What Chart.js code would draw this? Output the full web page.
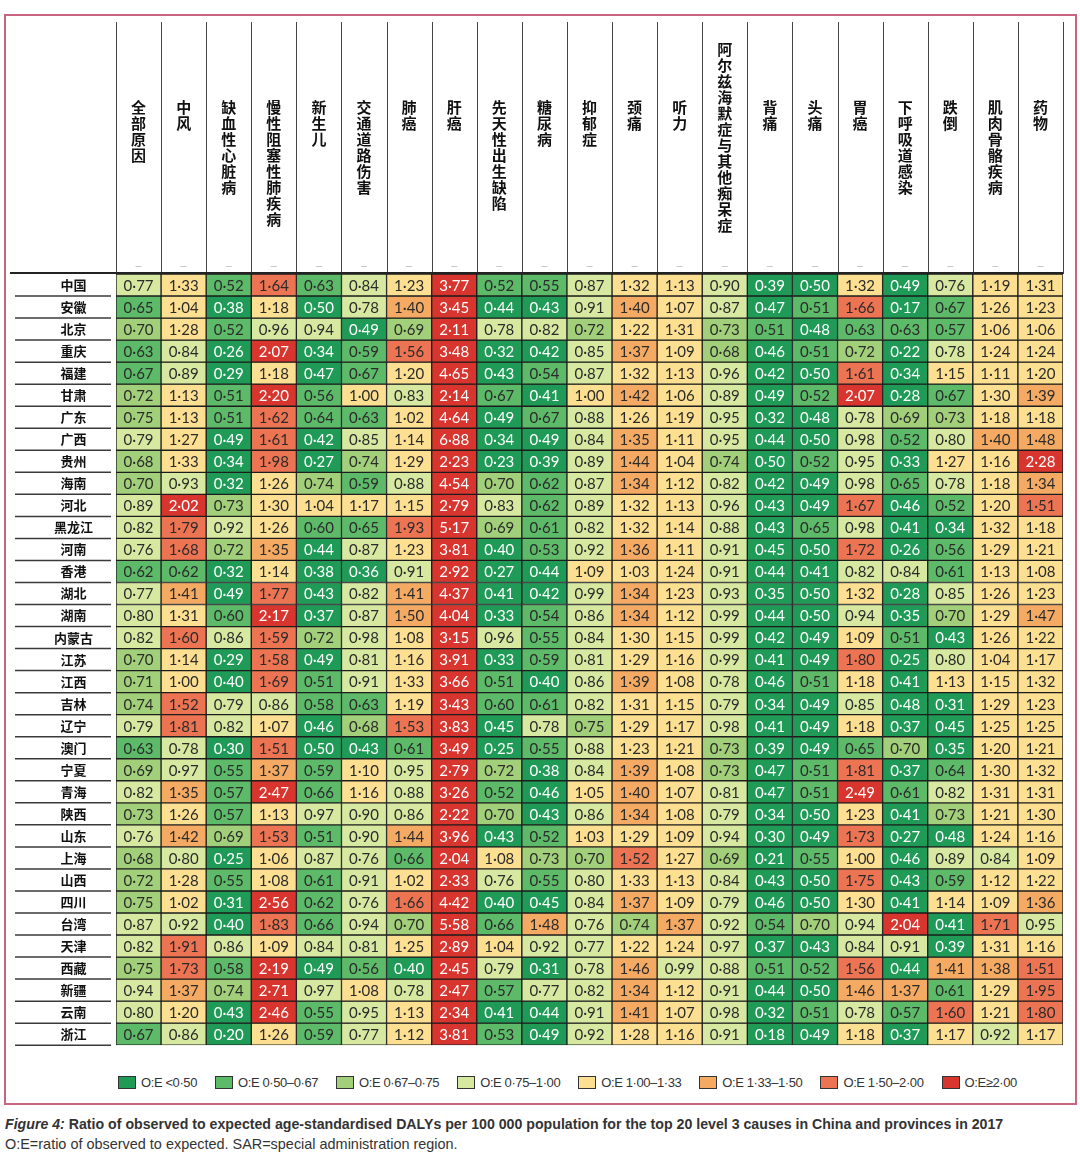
<!DOCTYPE html>
<html>
<head>
<meta charset="utf-8">
<script src="https://cdn.jsdelivr.net/npm/chart.js@4.4.0/dist/chart.umd.min.js"></script>
<style>
  body { margin: 0; background: #fff; }
  #page { position: relative; width: 1080px; height: 1157px; overflow: hidden; }
  #frame { position: absolute; left: 4px; top: 14px; width: 1069px; height: 1087px; border: 2px solid #c9667f; }
  #wrap { position: absolute; left: 0; top: 0; width: 1080px; height: 1068px; }
  #legend { position: absolute; left: 118px; top: 1075px; display: flex; align-items: center; white-space: nowrap;
    font: 13px 'Liberation Sans', sans-serif; letter-spacing: -0.4px; color: #333; }
  #legend .item { display: flex; align-items: center; margin-right: 18px; }
  #legend .box { width: 16px; height: 11px; border: 1px solid #333; margin-right: 5px; }
  #caption { position: absolute; left: 5px; top: 1115px; font-family: 'Liberation Sans', sans-serif; color: #333; }
  #caption div { white-space: nowrap; transform-origin: left top; display: inline-block; }
  #caption .l1 { font-size: 15px; font-weight: bold; }
  #caption .l2 { font-size: 14.5px; margin-top: 3px; }
</style>
</head>
<body>
<div id="page">
  <div id="frame"></div>
  <div id="wrap"><canvas id="heat"></canvas></div>
  <div id="legend"></div>
  <div id="caption">
    <div class="l1" data-w="998"><i>Figure 4:</i> Ratio of observed to expected age-standardised DALYs per 100 000 population for the top 20 level 3 causes in China and provinces in 2017</div><br>
    <div class="l2" data-w="453">O:E=ratio of observed to expected. SAR=special administration region.</div>
  </div>
</div>
<script>
// columns and rows
var causes = ['全部原因', '中风', '缺血性心脏病', '慢性阻塞性肺疾病', '新生儿', '交通道路伤害', '肺癌', '肝癌',
  '先天性出生缺陷', '糖尿病', '抑郁症', '颈痛', '听力', '阿尔兹海默症与其他痴呆症', '背痛', '头痛', '胃癌',
  '下呼吸道感染', '跌倒', '肌肉骨骼疾病', '药物'];

var provinces = ['中国', '安徽', '北京', '重庆', '福建', '甘肃', '广东', '广西', '贵州', '海南', '河北', '黑龙江',
  '河南', '香港', '湖北', '湖南', '内蒙古', '江苏', '江西', '吉林', '辽宁', '澳门', '宁夏', '青海', '陕西', '山东',
  '上海', '山西', '四川', '台湾', '天津', '西藏', '新疆', '云南', '浙江'];

// O:E ratios, one array per row
var zhongguo  = [0.77, 1.33, 0.52, 1.64, 0.63, 0.84, 1.23, 3.77, 0.52, 0.55, 0.87, 1.32, 1.13, 0.90, 0.39, 0.50, 1.32, 0.49, 0.76, 1.19, 1.31];
var anhui     = [0.65, 1.04, 0.38, 1.18, 0.50, 0.78, 1.40, 3.45, 0.44, 0.43, 0.91, 1.40, 1.07, 0.87, 0.47, 0.51, 1.66, 0.17, 0.67, 1.26, 1.23];
var beijing   = [0.70, 1.28, 0.52, 0.96, 0.94, 0.49, 0.69, 2.11, 0.78, 0.82, 0.72, 1.22, 1.31, 0.73, 0.51, 0.48, 0.63, 0.63, 0.57, 1.06, 1.06];
var chongqing = [0.63, 0.84, 0.26, 2.07, 0.34, 0.59, 1.56, 3.48, 0.32, 0.42, 0.85, 1.37, 1.09, 0.68, 0.46, 0.51, 0.72, 0.22, 0.78, 1.24, 1.24];
var fujian    = [0.67, 0.89, 0.29, 1.18, 0.47, 0.67, 1.20, 4.65, 0.43, 0.54, 0.87, 1.32, 1.13, 0.96, 0.42, 0.50, 1.61, 0.34, 1.15, 1.11, 1.20];
var gansu     = [0.72, 1.13, 0.51, 2.20, 0.56, 1.00, 0.83, 2.14, 0.67, 0.41, 1.00, 1.42, 1.06, 0.89, 0.49, 0.52, 2.07, 0.28, 0.67, 1.30, 1.39];
var guangdong = [0.75, 1.13, 0.51, 1.62, 0.64, 0.63, 1.02, 4.64, 0.49, 0.67, 0.88, 1.26, 1.19, 0.95, 0.32, 0.48, 0.78, 0.69, 0.73, 1.18, 1.18];
var guangxi   = [0.79, 1.27, 0.49, 1.61, 0.42, 0.85, 1.14, 6.88, 0.34, 0.49, 0.84, 1.35, 1.11, 0.95, 0.44, 0.50, 0.98, 0.52, 0.80, 1.40, 1.48];
var guizhou   = [0.68, 1.33, 0.34, 1.98, 0.27, 0.74, 1.29, 2.23, 0.23, 0.39, 0.89, 1.44, 1.04, 0.74, 0.50, 0.52, 0.95, 0.33, 1.27, 1.16, 2.28];
var hainan    = [0.70, 0.93, 0.32, 1.26, 0.74, 0.59, 0.88, 4.54, 0.70, 0.62, 0.87, 1.34, 1.12, 0.82, 0.42, 0.49, 0.98, 0.65, 0.78, 1.18, 1.34];
var hebei     = [0.89, 2.02, 0.73, 1.30, 1.04, 1.17, 1.15, 2.79, 0.83, 0.62, 0.89, 1.32, 1.13, 0.96, 0.43, 0.49, 1.67, 0.46, 0.52, 1.20, 1.51];
var heilongjiang = [0.82, 1.79, 0.92, 1.26, 0.60, 0.65, 1.93, 5.17, 0.69, 0.61, 0.82, 1.32, 1.14, 0.88, 0.43, 0.65, 0.98, 0.41, 0.34, 1.32, 1.18];
var henan     = [0.76, 1.68, 0.72, 1.35, 0.44, 0.87, 1.23, 3.81, 0.40, 0.53, 0.92, 1.36, 1.11, 0.91, 0.45, 0.50, 1.72, 0.26, 0.56, 1.29, 1.21];
var xianggang = [0.62, 0.62, 0.32, 1.14, 0.38, 0.36, 0.91, 2.92, 0.27, 0.44, 1.09, 1.03, 1.24, 0.91, 0.44, 0.41, 0.82, 0.84, 0.61, 1.13, 1.08];
var hubei     = [0.77, 1.41, 0.49, 1.77, 0.43, 0.82, 1.41, 4.37, 0.41, 0.42, 0.99, 1.34, 1.23, 0.93, 0.35, 0.50, 1.32, 0.28, 0.85, 1.26, 1.23];
var hunan     = [0.80, 1.31, 0.60, 2.17, 0.37, 0.87, 1.50, 4.04, 0.33, 0.54, 0.86, 1.34, 1.12, 0.99, 0.44, 0.50, 0.94, 0.35, 0.70, 1.29, 1.47];
var neimenggu = [0.82, 1.60, 0.86, 1.59, 0.72, 0.98, 1.08, 3.15, 0.96, 0.55, 0.84, 1.30, 1.15, 0.99, 0.42, 0.49, 1.09, 0.51, 0.43, 1.26, 1.22];
var jiangsu   = [0.70, 1.14, 0.29, 1.58, 0.49, 0.81, 1.16, 3.91, 0.33, 0.59, 0.81, 1.29, 1.16, 0.99, 0.41, 0.49, 1.80, 0.25, 0.80, 1.04, 1.17];
var jiangxi   = [0.71, 1.00, 0.40, 1.69, 0.51, 0.91, 1.33, 3.66, 0.51, 0.40, 0.86, 1.39, 1.08, 0.78, 0.46, 0.51, 1.18, 0.41, 1.13, 1.15, 1.32];
var jilin     = [0.74, 1.52, 0.79, 0.86, 0.58, 0.63, 1.19, 3.43, 0.60, 0.61, 0.82, 1.31, 1.15, 0.79, 0.34, 0.49, 0.85, 0.48, 0.31, 1.29, 1.23];
var liaoning  = [0.79, 1.81, 0.82, 1.07, 0.46, 0.68, 1.53, 3.83, 0.45, 0.78, 0.75, 1.29, 1.17, 0.98, 0.41, 0.49, 1.18, 0.37, 0.45, 1.25, 1.25];
var aomen     = [0.63, 0.78, 0.30, 1.51, 0.50, 0.43, 0.61, 3.49, 0.25, 0.55, 0.88, 1.23, 1.21, 0.73, 0.39, 0.49, 0.65, 0.70, 0.35, 1.20, 1.21];
var ningxia   = [0.69, 0.97, 0.55, 1.37, 0.59, 1.10, 0.95, 2.79, 0.72, 0.38, 0.84, 1.39, 1.08, 0.73, 0.47, 0.51, 1.81, 0.37, 0.64, 1.30, 1.32];
var qinghai   = [0.82, 1.35, 0.57, 2.47, 0.66, 1.16, 0.88, 3.26, 0.52, 0.46, 1.05, 1.40, 1.07, 0.81, 0.47, 0.51, 2.49, 0.61, 0.82, 1.31, 1.31];
var shaanxi   = [0.73, 1.26, 0.57, 1.13, 0.97, 0.90, 0.86, 2.22, 0.70, 0.43, 0.86, 1.34, 1.08, 0.79, 0.34, 0.50, 1.23, 0.41, 0.73, 1.21, 1.30];
var shandong  = [0.76, 1.42, 0.69, 1.53, 0.51, 0.90, 1.44, 3.96, 0.43, 0.52, 1.03, 1.29, 1.09, 0.94, 0.30, 0.49, 1.73, 0.27, 0.48, 1.24, 1.16];
var shanghai  = [0.68, 0.80, 0.25, 1.06, 0.87, 0.76, 0.66, 2.04, 1.08, 0.73, 0.70, 1.52, 1.27, 0.69, 0.21, 0.55, 1.00, 0.46, 0.89, 0.84, 1.09];
var shanxi    = [0.72, 1.28, 0.55, 1.08, 0.61, 0.91, 1.02, 2.33, 0.76, 0.55, 0.80, 1.33, 1.13, 0.84, 0.43, 0.50, 1.75, 0.43, 0.59, 1.12, 1.22];
var sichuan   = [0.75, 1.02, 0.31, 2.56, 0.62, 0.76, 1.66, 4.42, 0.40, 0.45, 0.84, 1.37, 1.09, 0.79, 0.46, 0.50, 1.30, 0.41, 1.14, 1.09, 1.36];
var taiwan    = [0.87, 0.92, 0.40, 1.83, 0.66, 0.94, 0.70, 5.58, 0.66, 1.48, 0.76, 0.74, 1.37, 0.92, 0.54, 0.70, 0.94, 2.04, 0.41, 1.71, 0.95];
var tianjin   = [0.82, 1.91, 0.86, 1.09, 0.84, 0.81, 1.25, 2.89, 1.04, 0.92, 0.77, 1.22, 1.24, 0.97, 0.37, 0.43, 0.84, 0.91, 0.39, 1.31, 1.16];
var xizang    = [0.75, 1.73, 0.58, 2.19, 0.49, 0.56, 0.40, 2.45, 0.79, 0.31, 0.78, 1.46, 0.99, 0.88, 0.51, 0.52, 1.56, 0.44, 1.41, 1.38, 1.51];
var xinjiang  = [0.94, 1.37, 0.74, 2.71, 0.97, 1.08, 0.78, 2.47, 0.57, 0.77, 0.82, 1.34, 1.12, 0.91, 0.44, 0.50, 1.46, 1.37, 0.61, 1.29, 1.95];
var yunnan    = [0.80, 1.20, 0.43, 2.46, 0.55, 0.95, 1.13, 2.34, 0.41, 0.44, 0.91, 1.41, 1.07, 0.98, 0.32, 0.51, 0.78, 0.57, 1.60, 1.21, 1.80];
var zhejiang  = [0.67, 0.86, 0.20, 1.26, 0.59, 0.77, 1.12, 3.81, 0.53, 0.49, 0.92, 1.28, 1.16, 0.91, 0.18, 0.49, 1.18, 0.37, 1.17, 0.92, 1.17];

var rows = [zhongguo, anhui, beijing, chongqing, fujian, gansu, guangdong, guangxi, guizhou, hainan, hebei,
  heilongjiang, henan, xianggang, hubei, hunan, neimenggu, jiangsu, jiangxi, jilin, liaoning, aomen, ningxia,
  qinghai, shaanxi, shandong, shanghai, shanxi, sichuan, taiwan, tianjin, xizang, xinjiang, yunnan, zhejiang];

// colour bins (upper limits) and legend text
var binLimits = [0.50, 0.67, 0.75, 0.999, 1.33, 1.50, 1.999, Infinity];
var binColors = ['#1f9a57', '#5dba69', '#a2cf79', '#d7e9a1', '#fcdf90', '#f5aa63', '#ed7453', '#d8352f'];
var binLabels = ['O:E <0·50', 'O:E 0·50–0·67', 'O:E 0·67–0·75', 'O:E 0·75–1·00', 'O:E 1·00–1·33', 'O:E 1·33–1·50', 'O:E 1·50–2·00', 'O:E≥2·00'];

function binOf(v) {
  for (var k = 0; k < binLimits.length; k++) {
    if (v <= binLimits[k]) return k;
  }
  return binLimits.length - 1;
}

function fmt(v) {
  return v.toFixed(2).replace('.', '·');
}

// html legend
var legendDiv = document.getElementById('legend');
binLabels.forEach(function(t, k) {
  var item = document.createElement('div');
  item.className = 'item';
  item.innerHTML = '<span class="box" style="background:' + binColors[k] + '"></span><span>' + t + '</span>';
  legendDiv.appendChild(item);
});

// squeeze caption lines to the width they take in the figure
document.querySelectorAll('#caption div').forEach(function(el) {
  var w = +el.getAttribute('data-w');
  el.style.transform = 'scaleX(' + (w / el.scrollWidth) + ')';
});

var datasets = rows.map(function(vals, i) {
  return {
    label: provinces[i],
    data: causes.map(function() { return [i - 0.5, i + 0.5]; }),
    values: vals,
    backgroundColor: vals.map(function(v) { return binColors[binOf(v)]; }),
    borderColor: '#1d1d1d',
    borderWidth: 1,
    borderSkipped: false,
    grouped: false,
    barPercentage: 1,
    categoryPercentage: 1
  };
});

var cellText = {
  id: 'cellText',
  afterDatasetsDraw: function(chart) {
    var ctx = chart.ctx;
    ctx.save();
    ctx.font = '15px Lato, "Open Sans", sans-serif';
    ctx.textAlign = 'center';
    ctx.textBaseline = 'middle';
    chart.data.datasets.forEach(function(ds, i) {
      chart.getDatasetMeta(i).data.forEach(function(bar, j) {
        var v = ds.values[j];
        var b = binOf(v);
        ctx.fillStyle = (b === 0 || b === 7) ? '#ffffff' : '#2b2b2b';
        ctx.fillText(fmt(v), bar.x, (bar.y + bar.base) / 2 + 1);
      });
    });
    ctx.restore();
  }
};

var header = {
  id: 'header',
  afterDraw: function(chart) {
    var ctx = chart.ctx;
    var x = chart.scales.x, y = chart.scales.y;
    var area = chart.chartArea;
    var half = (area.right - area.left) / causes.length / 2;
    ctx.save();
    // column separators in the header
    ctx.strokeStyle = '#444';
    ctx.lineWidth = 1;
    for (var j = 0; j <= causes.length; j++) {
      var px = j < causes.length ? x.getPixelForValue(j) - half : x.getPixelForValue(j - 1) + half;
      ctx.beginPath();
      ctx.moveTo(Math.round(px) + 0.5, 22);
      ctx.lineTo(Math.round(px) + 0.5, area.top);
      ctx.stroke();
    }
    // small marks at the foot of each header cell
    ctx.strokeStyle = '#c8c8c8';
    causes.forEach(function(c, j) {
      var cx = x.getPixelForValue(j);
      ctx.beginPath();
      ctx.moveTo(cx - 3, area.top - 7.5);
      ctx.lineTo(cx + 3, area.top - 7.5);
      ctx.stroke();
    });
    // vertical column titles
    ctx.fillStyle = '#111';
    ctx.font = 'bold 15px "Noto Sans CJK SC", sans-serif';
    ctx.textAlign = 'center';
    ctx.textBaseline = 'top';
    causes.forEach(function(c, j) {
      var cx = x.getPixelForValue(j);
      var step = 16;
      var top = Math.min(100, 234 - c.length * step);
      for (var k = 0; k < c.length; k++) {
        ctx.fillText(c[k], cx, top + k * step);
      }
    });
    // top rule of the table
    ctx.strokeStyle = '#222';
    ctx.lineWidth = 2;
    ctx.beginPath();
    ctx.moveTo(10, area.top - 1);
    ctx.lineTo(area.right, area.top - 1);
    ctx.stroke();
    // row rules in the label column
    ctx.strokeStyle = '#3a3a3a';
    ctx.lineWidth = 1.5;
    for (var i = 1; i <= provinces.length; i++) {
      var py = y.getPixelForValue(i - 0.5);
      ctx.beginPath();
      ctx.moveTo(15, py);
      ctx.lineTo(area.left - 5, py);
      ctx.stroke();
    }
    ctx.restore();
  }
};

var heat = document.getElementById('heat').getContext('2d');

var myChart = new Chart(heat, {
  type: 'bar',
  data: {
    labels: causes,
    datasets: datasets
  },
  options: {
    responsive: true,
    maintainAspectRatio: false,
    animation: false,
    layout: { padding: { left: 15, right: 17, top: 274, bottom: 6 } },
    plugins: {
      legend: { display: false },
      tooltip: { enabled: false }
    },
    scales: {
      x: {
        type: 'category',
        display: false
      },
      y: {
        type: 'linear',
        min: -0.5,
        max: provinces.length - 0.5,
        reverse: true,
        grid: { display: false },
        border: { display: false },
        afterFit: function(scale) { scale.width = 101; },
        afterBuildTicks: function(scale) {
          scale.ticks = provinces.map(function(p, i) { return { value: i }; });
        },
        ticks: {
          autoSkip: false,
          crossAlign: 'center',
          padding: 15,
          color: '#111',
          font: { family: '"Noto Sans CJK SC", sans-serif', size: 13, weight: 'bold' },
          callback: function(v) { return provinces[v]; }
        }
      }
    }
  },
  plugins: [cellText, header]
});
</script>
</body>
</html>
